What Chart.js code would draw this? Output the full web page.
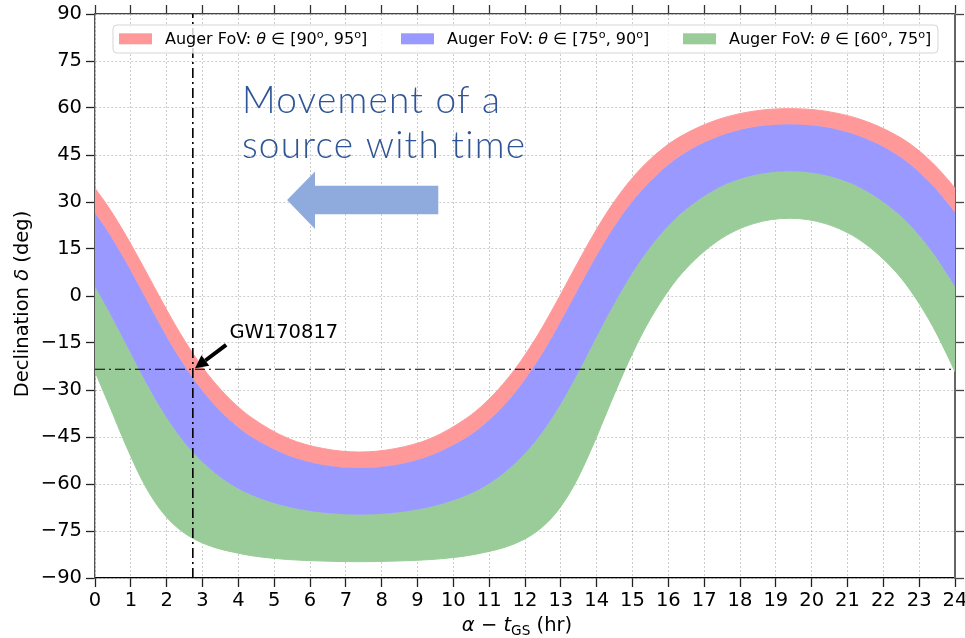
<!DOCTYPE html>
<html>
<head>
<meta charset="utf-8">
<script src="https://cdn.jsdelivr.net/npm/chart.js@4.4.0/dist/chart.umd.min.js"></script>
<style>
  html, body { margin: 0; padding: 0; background: #fff; }
  #wrap { width: 965px; height: 638px; }
</style>
</head>
<body>
<div id="wrap"><canvas id="fov" width="965" height="638"></canvas></div>
<script>
// sample positions along alpha - t_GS (hr)
const hours = [0, 0.38, 0.88, 1.38, 1.88, 2.38, 2.88, 3.38, 3.88, 4.38, 5.38, 6.38, 7.38, 8.38, 9.38,
  10.38, 10.88, 11.38, 11.88, 12.38, 12.88, 13.38, 13.88, 14.38, 14.88, 15.38, 15.88, 16.38, 17.38,
  18.38, 19.38, 20.38, 21.38, 22.38, 22.88, 23.38, 23.88, 24];

// declination (deg) of the zenith-angle contours
const decTheta95 = [34.4, 28.3, 19.0, 8.7, -1.9, -12.0, -20.8, -28.2, -34.2, -38.9, -45.4, -48.7, -49.8,
  -48.7, -45.4, -38.9, -34.2, -28.2, -20.8, -12.0, -1.9, 8.7, 19.0, 28.3, 36.1, 42.4, 47.4, 51.2, 56.3,
  59.0, 59.8, 59.0, 56.3, 51.2, 47.4, 42.4, 36.1, 34.4];
const decTheta90 = [26.6, 20.2, 10.5, 0.0, -10.5, -20.2, -28.5, -35.3, -40.8, -45.1, -50.8, -53.9, -54.8,
  -53.9, -50.8, -45.1, -40.8, -35.3, -28.5, -20.2, -10.5, 0.0, 10.5, 20.2, 28.5, 35.3, 40.8, 45.1, 50.8,
  53.9, 54.8, 53.9, 50.8, 45.1, 40.8, 35.3, 28.5, 26.6];
const decTheta75 = [3.0, -4.8, -15.7, -26.7, -36.7, -45.1, -51.7, -56.8, -60.7, -63.6, -67.3, -69.2, -69.8,
  -69.2, -67.3, -63.6, -60.7, -56.8, -51.7, -45.1, -36.7, -26.7, -15.7, -4.8, 5.2, 13.8, 20.9, 26.6, 34.4,
  38.5, 39.8, 38.5, 34.4, 26.6, 20.9, 13.8, 5.2, 3.0];
const decTheta60 = [-24.2, -34.4, -48.1, -60.2, -69.0, -74.7, -78.2, -80.4, -81.8, -82.9, -84.1, -84.6, -84.8,
  -84.6, -84.1, -82.9, -81.8, -80.4, -78.2, -74.7, -69.0, -60.2, -48.1, -34.4, -21.2, -9.7, -0.3, 7.3, 17.6,
  23.1, 24.8, 23.1, 17.6, 7.3, -0.3, -9.7, -21.2, -24.2];

// zenith ranges of the three bands (deg)
const bandRanges = [[90, 95], [75, 90], [60, 75]];
const bandColors = ['#ff9999', '#9999ff', '#99cc99'];

const gwEvent = { name: 'GW170817', hour: 2.73, dec: -23.38 };

const hourMin = 0, hourMax = 24, hourStep = 1;
const decMin = -90, decMax = 90, decStep = 15;

const FONT = "'DejaVu Sans', sans-serif";
const DASH_DOT = [10, 4, 2, 4];

function toPoints(ys) {
  return hours.map((h, i) => ({ x: h, y: ys[i] }));
}

// draws a run of text pieces (italic / superscript / subscript) on one baseline
function drawRich(ctx, parts, x, y, size, align) {
  let total = 0;
  const sized = parts.map(p => {
    const s = (p.sup || p.sub) ? size * 0.7 : size;
    const font = (p.italic ? 'italic ' : '') + s + 'px ' + FONT;
    ctx.font = font;
    const w = ctx.measureText(p.text).width;
    total += w;
    return { text: p.text, font, w, dy: p.sup ? -size * 0.38 : (p.sub ? size * 0.22 : 0) };
  });
  let cx = align === 'center' ? x - total / 2 : x;
  ctx.textAlign = 'left';
  ctx.textBaseline = 'alphabetic';
  sized.forEach(p => {
    ctx.font = p.font;
    ctx.fillText(p.text, cx, y + p.dy);
    cx += p.w;
  });
}

const annotations = {
  id: 'annotations',
  afterDatasetsDraw(chart) {
    const { ctx, scales: { x, y } } = chart;
    const px = h => x.getPixelForValue(h);
    const py = d => y.getPixelForValue(d);
    ctx.save();

    // caption and arrow showing the drift direction; letters spread so the second line spans 4.1 -> 12.05 hr
    const caption = ['Movement of a', 'source with time'];
    ctx.fillStyle = '#2f5597';
    ctx.font = '300 37px Lato, sans-serif';
    const natural = ctx.measureText(caption[1]).width;
    const spread = ((px(12.05) - px(4.1)) - natural) / caption[1].length;
    ctx.letterSpacing = Math.max(0, spread).toFixed(2) + 'px';
    ctx.textAlign = 'left';
    ctx.textBaseline = 'alphabetic';
    ctx.fillText(caption[0], px(4.1), py(58.4));
    ctx.fillText(caption[1], px(4.1), py(44.0));
    ctx.letterSpacing = '0px';

    ctx.fillStyle = '#8faadc';
    ctx.beginPath();
    ctx.moveTo(px(5.36), py(30.6));
    ctx.lineTo(px(6.14), py(39.7));
    ctx.lineTo(px(6.14), py(35.2));
    ctx.lineTo(px(9.58), py(35.2));
    ctx.lineTo(px(9.58), py(26.1));
    ctx.lineTo(px(6.14), py(26.1));
    ctx.lineTo(px(6.14), py(21.4));
    ctx.closePath();
    ctx.fill();

    // event label with pointer
    const tipX = px(gwEvent.hour + 0.06), tipY = py(gwEvent.dec + 0.3);
    const tailX = px(3.66), tailY = py(-15.6);
    const ang = Math.atan2(tipY - tailY, tipX - tailX);
    const headLen = 13, headHalf = 6.5;
    const bx = tipX - headLen * Math.cos(ang), by = tipY - headLen * Math.sin(ang);
    ctx.strokeStyle = '#000';
    ctx.lineWidth = 4;
    ctx.beginPath();
    ctx.moveTo(tailX, tailY);
    ctx.lineTo(bx, by);
    ctx.stroke();
    ctx.fillStyle = '#000';
    ctx.beginPath();
    ctx.moveTo(tipX, tipY);
    ctx.lineTo(bx + headHalf * Math.sin(ang), by - headHalf * Math.cos(ang));
    ctx.lineTo(bx - headHalf * Math.sin(ang), by + headHalf * Math.cos(ang));
    ctx.closePath();
    ctx.fill();
    ctx.font = '19.5px ' + FONT;
    ctx.fillText(gwEvent.name, px(3.75), py(-13.3));
    ctx.restore();
  },
  afterDraw(chart) {
    const { ctx, chartArea: a } = chart;
    ctx.save();
    ctx.fillStyle = '#000';

    // axis titles
    drawRich(ctx, [
      { text: 'α', italic: true }, { text: ' − ' }, { text: 't', italic: true },
      { text: 'GS', sub: true }, { text: ' (hr)' }
    ], 517, 631, 19.5, 'center');
    ctx.save();
    ctx.translate(28, (a.top + a.bottom) / 2 + 8);
    ctx.rotate(-Math.PI / 2);
    drawRich(ctx, [{ text: 'Declination ' }, { text: 'δ', italic: true }, { text: ' (deg)' }], 0, 0, 19.5, 'center');
    ctx.restore();

    // legend frame
    const left = a.left + 18, top = a.top + 11, w = 825, h = 28, r = 4;
    ctx.beginPath();
    ctx.moveTo(left + r, top);
    ctx.arcTo(left + w, top, left + w, top + h, r);
    ctx.arcTo(left + w, top + h, left, top + h, r);
    ctx.arcTo(left, top + h, left, top, r);
    ctx.arcTo(left, top, left + w, top, r);
    ctx.closePath();
    ctx.fillStyle = 'rgba(255,255,255,0.8)';
    ctx.fill();
    ctx.strokeStyle = '#d5d5d5';
    ctx.lineWidth = 1;
    ctx.stroke();

    bandRanges.forEach((rg, i) => {
      const ix = left + 6 + i * 282;
      ctx.fillStyle = bandColors[i];
      ctx.fillRect(ix, top + 8.3, 33, 11);
      ctx.fillStyle = '#000';
      drawRich(ctx, [
        { text: 'Auger FoV: ' }, { text: 'θ', italic: true }, { text: ' ∈ [' + rg[0] },
        { text: 'o', sup: true }, { text: ', ' + rg[1] }, { text: 'o', sup: true }, { text: ']' }
      ], ix + 46, top + 19, 16);
    });
    ctx.restore();
  }
};

const gridStyle = { color: 'rgba(0,0,0,0.2)', lineWidth: 1, tickColor: '#222', tickLength: 9, tickWidth: 1.3 };
const noPad = s => { s.paddingLeft = 0; s.paddingRight = 0; s.paddingTop = 0; s.paddingBottom = 0; };
const minus = v => String(v).replace('-', '\u2212');

new Chart(document.getElementById('fov'), {
  type: 'line',
  data: {
    datasets: [
      {
        label: 'event hour',
        data: [{ x: gwEvent.hour, y: decMin }, { x: gwEvent.hour, y: decMax }],
        borderColor: '#000', borderWidth: 1.6, borderDash: DASH_DOT, pointRadius: 0, fill: false
      },
      {
        label: 'event declination',
        data: [{ x: hourMin, y: gwEvent.dec }, { x: hourMax, y: gwEvent.dec }],
        borderColor: '#000', borderWidth: 1.1, borderDash: DASH_DOT, pointRadius: 0, fill: false
      },
      {
        label: 'Auger FoV: θ∈[90°, 95°]',
        data: toPoints(decTheta95),
        borderColor: bandColors[0], backgroundColor: bandColors[0], borderWidth: 1,
        fill: '+1', pointRadius: 0, cubicInterpolationMode: 'monotone'
      },
      {
        label: 'Auger FoV: θ∈[75°, 90°]',
        data: toPoints(decTheta90),
        borderColor: bandColors[1], backgroundColor: bandColors[1], borderWidth: 1,
        fill: '+1', pointRadius: 0, cubicInterpolationMode: 'monotone'
      },
      {
        label: 'Auger FoV: θ∈[60°, 75°]',
        data: toPoints(decTheta75),
        borderColor: bandColors[2], backgroundColor: bandColors[2], borderWidth: 1,
        fill: '+1', pointRadius: 0, cubicInterpolationMode: 'monotone'
      },
      {
        label: 'lower edge',
        data: toPoints(decTheta60),
        borderColor: bandColors[2], borderWidth: 1,
        fill: false, pointRadius: 0, cubicInterpolationMode: 'monotone'
      }
    ]
  },
  options: {
    responsive: false,
    devicePixelRatio: 1,
    animation: false,
    events: [],
    layout: { padding: 0 },
    plugins: { legend: { display: false }, tooltip: { enabled: false } },
    scales: {
      x: {
        type: 'linear', position: 'bottom', min: hourMin, max: hourMax,
        ticks: { stepSize: hourStep, autoSkip: false, maxRotation: 0, padding: 2, color: '#000',
          font: { family: FONT, size: 19.5 } },
        grid: gridStyle,
        border: { color: '#000', width: 1.3, dash: [2, 2] },
        afterFit: s => { s.height = 60; noPad(s); }
      },
      xTop: {
        type: 'linear', position: 'top', min: hourMin, max: hourMax,
        ticks: { stepSize: hourStep, display: false },
        grid: { drawOnChartArea: false, tickColor: '#333', tickLength: 9, tickWidth: 1.3 },
        border: { color: '#444', width: 1.3 },
        afterFit: s => { s.height = 14; noPad(s); }
      },
      y: {
        type: 'linear', position: 'left', min: decMin, max: decMax,
        ticks: { stepSize: decStep, padding: 4, color: '#000', font: { family: FONT, size: 19.5 },
          callback: minus },
        grid: gridStyle,
        border: { color: '#555', width: 1.3, dash: [2, 2] },
        afterFit: s => { s.width = 95; noPad(s); }
      },
      yRight: {
        type: 'linear', position: 'right', min: decMin, max: decMax,
        ticks: { stepSize: decStep, display: false },
        grid: { drawOnChartArea: false, tickColor: '#444', tickLength: 9, tickWidth: 1.3 },
        border: { color: '#666', width: 2 },
        afterFit: s => { s.width = 10; noPad(s); }
      }
    }
  },
  plugins: [annotations]
});
</script>
</body>
</html>
